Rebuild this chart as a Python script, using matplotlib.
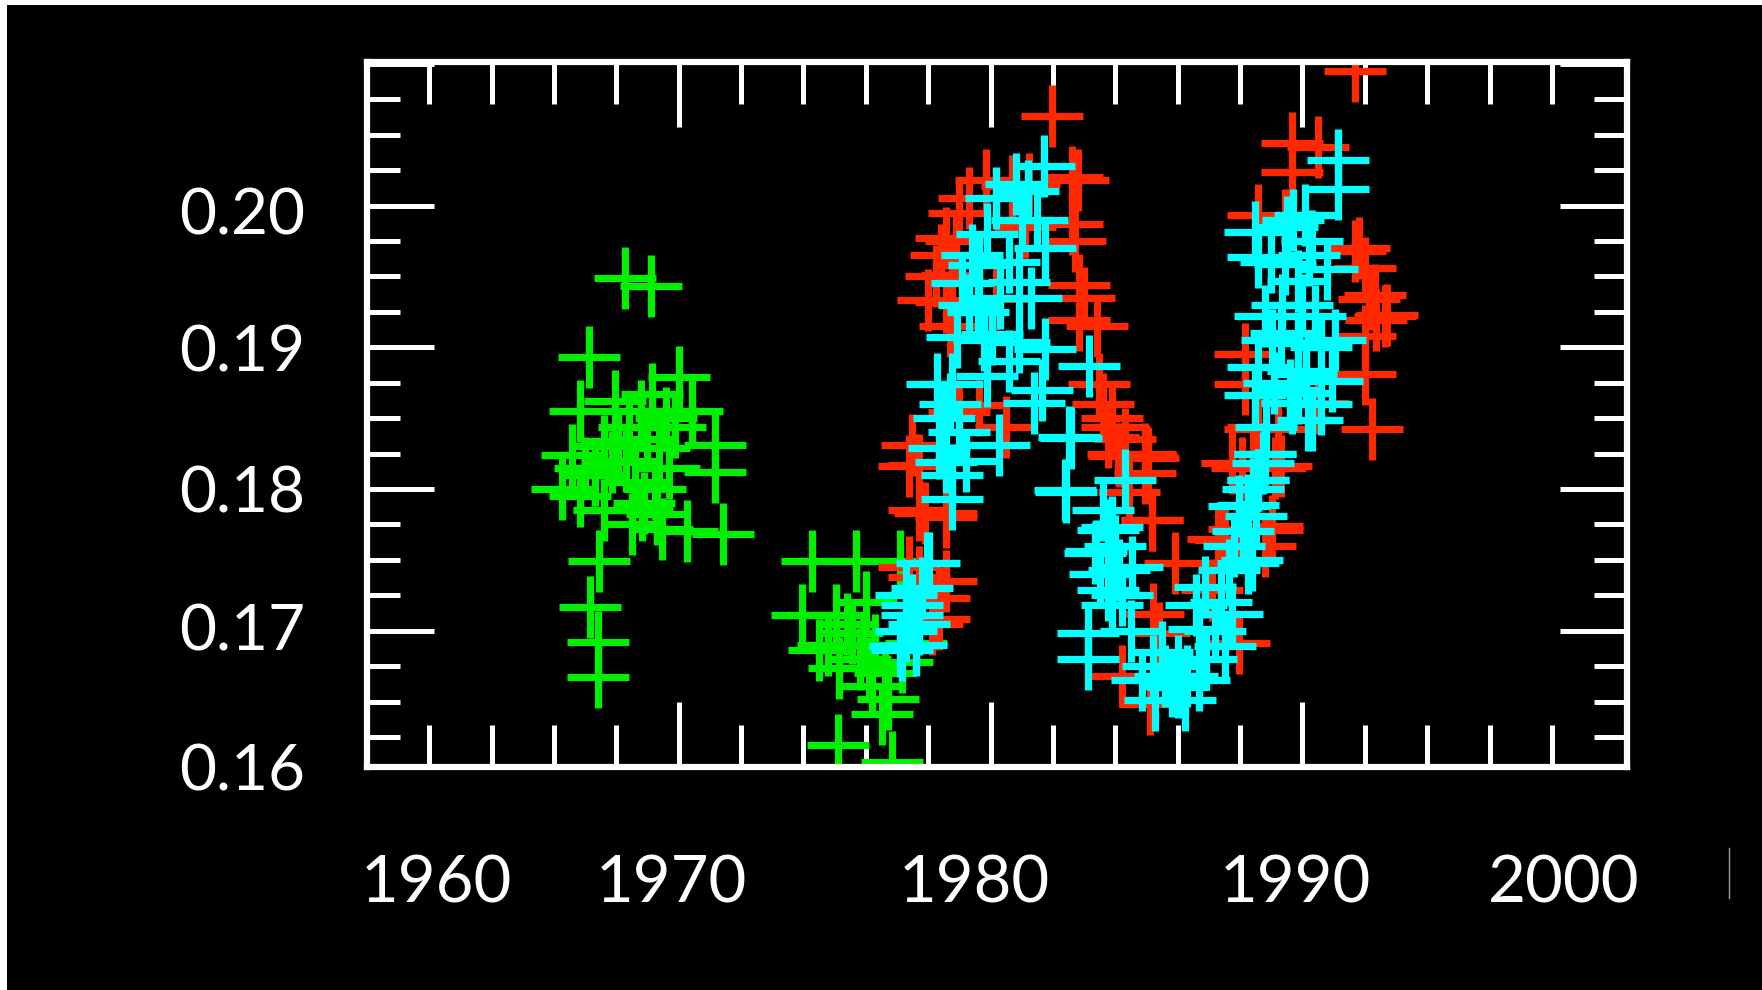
import matplotlib
matplotlib.use('Agg')
import matplotlib.pyplot as plt
from matplotlib.ticker import FixedLocator, MultipleLocator
from matplotlib.lines import Line2D
from matplotlib.patches import Rectangle
import matplotlib.transforms as mtransforms

plt.rcParams['font.family'] = ['Lato', 'DejaVu Sans']

# green series (early period)
green_year = [1968.27, 1969.12, 1967.11, 1970.00, 1967.97, 1969.14, 1966.84, 1970.43,
              1971.18, 1971.18, 1966.58, 1966.84, 1968.82, 1969.47, 1970.27, 1971.41,
              1967.43, 1967.17, 1967.40, 1967.41, 1968.07, 1969.36, 1967.33, 1968.61,
              1969.89, 1966.26, 1968.40, 1967.86, 1969.25, 1968.90, 1969.70, 1967.60,
              1967.00, 1967.60, 1968.30, 1969.00, 1969.60, 1968.80, 1969.30, 1968.50,
              1974.28, 1975.67, 1977.11, 1973.96, 1975.03, 1974.49, 1975.56, 1976.10,
              1975.13, 1977.17, 1976.52, 1976.20, 1975.11, 1976.84, 1977.60, 1975.90,
              1976.70, 1975.40, 1975.80, 1976.30, 1976.00, 1974.80, 1976.60]
green_val = [0.1949, 0.1943, 0.1893, 0.1879, 0.1862, 0.1867, 0.1855, 0.1855,
             0.1831, 0.1812, 0.1824, 0.1795, 0.1785, 0.1772, 0.1770, 0.1768,
             0.1749, 0.1717, 0.1692, 0.1667, 0.1834, 0.1829, 0.1810, 0.1805,
             0.1844, 0.1800, 0.1844, 0.1819, 0.1800, 0.1790, 0.1815, 0.1785,
             0.1815, 0.1830, 0.1820, 0.1835, 0.1850, 0.1855, 0.1782, 0.1775,
             0.1749, 0.1749, 0.1749, 0.1711, 0.1711, 0.1686, 0.1698, 0.1674,
             0.1674, 0.1678, 0.1641, 0.1661, 0.1619, 0.1607, 0.1691, 0.1690,
             0.1652, 0.1705, 0.1680, 0.1690, 0.1720, 0.1690, 0.1670]

# red series
red_year = [1977.49, 1977.38, 1977.91, 1978.56, 1977.70, 1978.34, 1978.34, 1978.13,
            1978.56, 1978.56, 1977.40, 1977.70, 1977.70,
            1978.56, 1978.24, 1978.56, 1978.98, 1979.84, 1980.16, 1979.63, 1978.98,
            1980.48, 1978.77, 1978.90, 1978.00, 1978.40, 1978.70, 1979.30,
            1981.12, 1981.23, 1982.62, 1982.62, 1981.98, 1982.83, 1982.83, 1983.48,
            1983.90, 1984.12, 1984.97, 1984.44, 1985.19, 1980.70, 1982.80, 1982.70,
            1983.00, 1983.40, 1983.60, 1983.90, 1984.30,
            1983.78, 1984.96, 1984.96, 1985.17, 1985.92, 1987.52, 1989.02, 1988.59,
            1987.74, 1984.10, 1985.06, 1985.20, 1985.40, 1984.20, 1985.10, 1987.95,
            1987.10, 1987.30, 1988.80, 1988.40, 1989.30,
            1989.66, 1989.66, 1990.51, 1988.59, 1989.44, 1991.69, 1992.01, 1992.33,
            1992.65, 1992.01, 1988.16, 1988.16, 1992.01, 1992.22, 1988.48, 1989.23,
            1988.48, 1988.05, 1989.12, 1987.95, 1989.02, 1990.51, 1991.69, 1992.14,
            1992.35, 1992.70, 1991.82]
red_val = [0.1831, 0.1816, 0.1783, 0.1783, 0.1738, 0.1723, 0.1708, 0.1705,
           0.1735, 0.1780, 0.1745, 0.1817, 0.1785,
           0.1932, 0.1950, 0.1977, 0.1995, 0.2018, 0.1934, 0.1859, 0.1854,
           0.1844, 0.1951, 0.1975, 0.1933, 0.1965, 0.1915, 0.2005,
           0.1985, 0.2015, 0.2020, 0.1987, 0.2063, 0.1944, 0.1919, 0.1874,
           0.1844, 0.1823, 0.1823, 0.1798, 0.1778, 0.2014, 0.2018, 0.1975,
           0.1935, 0.1915, 0.1860, 0.1850, 0.1835,
           0.1837, 0.1825, 0.1811, 0.1778, 0.1748, 0.1764, 0.1771, 0.1844,
           0.1818, 0.1825, 0.1822, 0.1712, 0.1698, 0.1668, 0.1648, 0.1691,
           0.1729, 0.1765, 0.1760, 0.1818, 0.1816,
           0.2044, 0.2024, 0.2041, 0.1993, 0.1990, 0.1968, 0.1956, 0.1937,
           0.1922, 0.1908, 0.1895, 0.1874, 0.1881, 0.1842, 0.1842, 0.1842,
           0.1818, 0.1815, 0.1815, 0.1772, 0.1774, 0.1861, 0.2095, 0.1934,
           0.1919, 0.1923, 0.1970]

# cyan series
cyan_year = [1977.17, 1977.49, 1977.97, 1977.49, 1978.02, 1977.30, 1977.60, 1977.10,
             1977.30, 1977.70, 1977.80,
             1978.77, 1978.34, 1978.77, 1980.05, 1980.90, 1979.63, 1978.29, 1978.56,
             1978.77, 1980.27, 1978.93, 1979.00, 1979.30, 1979.80, 1980.30, 1980.60,
             1981.30, 1981.50, 1980.80, 1979.90, 1978.70, 1979.20, 1978.50,
             1981.71, 1980.16, 1981.20, 1981.76, 1979.41, 1979.10, 1979.60, 1980.90,
             1981.76, 1983.16, 1981.39, 1982.57, 1982.41, 1979.90, 1980.60, 1981.00,
             1982.50, 1982.39, 1983.78, 1983.35, 1983.78, 1983.14, 1983.14, 1984.85,
             1985.81, 1986.67, 1986.24, 1985.28, 1986.67, 1987.73, 1987.52, 1986.88,
             1988.27, 1987.95, 1988.80, 1988.59, 1989.87, 1990.19, 1984.53, 1984.32,
             1981.65, 1983.90, 1984.12, 1983.37, 1983.90, 1986.58, 1987.65, 1988.50,
             1988.72, 1988.82, 1984.50, 1985.50, 1986.00, 1983.60, 1984.00, 1983.50,
             1984.20, 1985.20, 1985.60, 1986.30, 1986.90, 1987.20, 1986.00, 1987.40,
             1987.80, 1988.10, 1988.40,
             1991.15, 1991.15, 1990.08, 1988.48, 1988.59, 1989.44, 1989.87, 1989.34,
             1988.80, 1990.40, 1989.02, 1989.87, 1991.05, 1988.59, 1989.87, 1990.94,
             1988.48, 1989.66, 1990.30, 1988.80, 1988.59, 1988.27, 1988.37, 1990.10,
             1990.32, 1989.50, 1990.80, 1989.00, 1989.30, 1990.00, 1990.60, 1989.60,
             1990.20, 1989.10, 1990.60, 1989.70]
cyan_val = [0.1686, 0.1711, 0.1748, 0.1718, 0.1748, 0.1700, 0.1690, 0.1689,
            0.1725, 0.1705, 0.1730,
            0.1810, 0.1829, 0.1874, 0.1909, 0.1946, 0.1958, 0.1874, 0.1819,
            0.1793, 0.1831, 0.1907, 0.1840, 0.1930, 0.1905, 0.1935, 0.1890,
            0.1935, 0.1990, 0.2015, 0.1880, 0.1860, 0.1820, 0.1850,
            0.2028, 0.2005, 0.2010, 0.1970, 0.1965, 0.1945, 0.1925, 0.1904,
            0.1899, 0.1887, 0.1861, 0.1836, 0.1798, 0.1980, 0.1960, 0.1990,
            0.1837, 0.1799, 0.1771, 0.1755, 0.1729, 0.1698, 0.1680, 0.1665,
            0.1661, 0.1665, 0.1651, 0.1651, 0.1701, 0.1712, 0.1689, 0.1731,
            0.1748, 0.1788, 0.1825, 0.1806, 0.1868, 0.1849, 0.1745, 0.1806,
            0.1870, 0.1773, 0.1743, 0.1756, 0.1718, 0.1718, 0.1743, 0.1781,
            0.1818, 0.1844, 0.1700, 0.1685, 0.1675, 0.1785, 0.1760, 0.1740,
            0.1725, 0.1675, 0.1668, 0.1668, 0.1680, 0.1700, 0.1660, 0.1720,
            0.1760, 0.1770, 0.1800,
            0.2032, 0.2012, 0.1993, 0.1981, 0.1964, 0.1959, 0.1947, 0.1930,
            0.1922, 0.1922, 0.1905, 0.1903, 0.1905, 0.1886, 0.1883, 0.1876,
            0.1866, 0.1861, 0.1849, 0.1825, 0.1806, 0.1789, 0.1750, 0.1881,
            0.1975, 0.1985, 0.1955, 0.1960, 0.1910, 0.1930, 0.1900, 0.1870,
            0.1965, 0.1875, 0.1860, 0.1990]

# axis labels as they were typeset (slightly off the ticks in the original)
xlabels = ['1960', '1970', '1980', '1990', '2000']
xlabel_at = [1962.22, 1969.77, 1979.49, 1989.77, 1998.38]
ylabels = ['0.20', '0.19', '0.18', '0.17', '0.16']
ylabel_at = [0.19962, 0.18996, 0.18001, 0.17028, 0.16037]

W, H = 1762, 990
fig = plt.figure(figsize=(W / 100, H / 100), dpi=100, facecolor='black')
ax = fig.add_axes([366.8 / W, 1 - 766.7 / H, 1260 / W, 705 / H])
ax.set_facecolor('black')

mk = dict(linestyle='none', marker='+', markersize=45, markeredgewidth=5.2)
ax.plot(green_year, green_val, color='#00f000', **mk)
ax.plot(red_year, red_val, color='#ff2800', **mk)
ax.plot(cyan_year, cyan_val, color='#00ffff', **mk)

ax.set_xlim(1960, 2000.4)
ax.set_ylim(0.1604, 0.21015)

for s in ax.spines.values():
    s.set_color('white')
    s.set_linewidth(4.5)

ax.xaxis.set_major_locator(FixedLocator([1960, 1970, 1980, 1990]))
ax.xaxis.set_minor_locator(FixedLocator([y for y in range(1962, 2000, 2) if y % 10]))
ax.yaxis.set_major_locator(MultipleLocator(0.01))
ax.yaxis.set_minor_locator(MultipleLocator(0.0025))
ax.tick_params(which='both', direction='in', top=True, right=True, color='white',
               width=3.6, labelbottom=False, labelleft=False)
ax.tick_params(axis='x', which='major', length=47)
ax.tick_params(axis='x', which='minor', length=30)
ax.tick_params(axis='y', which='major', length=48)
ax.tick_params(axis='y', which='minor', length=24)

tx = mtransforms.blended_transform_factory(ax.transData, ax.transAxes)
for lab, x in zip(xlabels, xlabel_at):
    ax.text(x, -0.192, lab, transform=tx, ha='center', va='baseline',
            color='white', fontsize=47, clip_on=False)

ty = mtransforms.blended_transform_factory(ax.transAxes, ax.transData)
for lab, y in zip(ylabels, ylabel_at):
    ax.text(-0.049, y, lab, transform=ty, ha='right', va='center_baseline',
            color='white', fontsize=46, clip_on=False)

# thin white margin at top/left and a stray cursor mark, as in the original
fig.add_artist(Rectangle((0, 1 - 5 / H), 1, 5 / H, transform=fig.transFigure,
                         color='white', lw=0))
fig.add_artist(Rectangle((0, 0), 7 / W, 1, transform=fig.transFigure,
                         color='white', lw=0))
fig.add_artist(Line2D([1729 / W, 1729 / W], [1 - 848 / H, 1 - 898 / H],
                      color='#9a9a9a', lw=1))

fig.savefig('out.png', dpi=100, facecolor='black')
